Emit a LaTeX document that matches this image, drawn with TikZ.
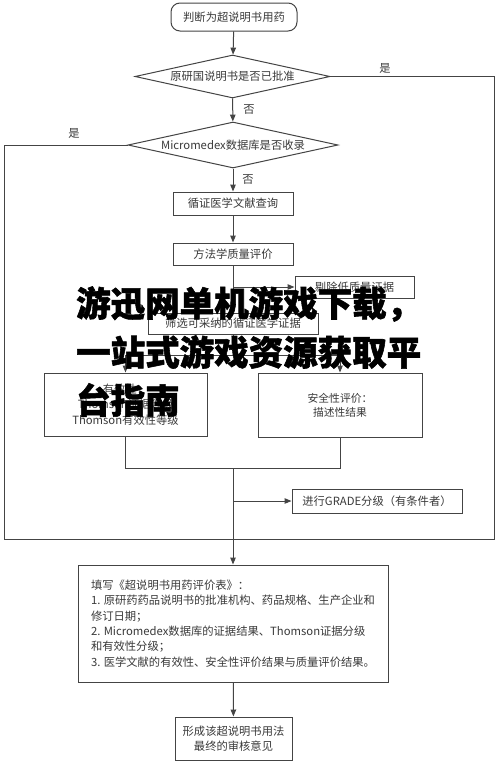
\documentclass[tikz,border=0pt]{standalone}
\usepackage{fontspec}
\setmainfont{Noto Sans CJK SC}
\newfontfamily\heavyfont{Noto Sans CJK SC}[BoldFeatures={FakeBold=1.6}]
\usetikzlibrary{shapes.geometric,arrows.meta}
\definecolor{linec}{HTML}{444444}
\definecolor{txtc}{HTML}{3A3A3A}
\begin{document}
\begin{tikzpicture}[x=1pt,y=-1pt,
  base/.style={font=\fontsize{11.3}{15.4}\selectfont, text=txtc},
  box/.style={base, draw=linec, line width=1pt, inner sep=0pt, align=center},
  dia/.style={diamond, draw=linec, line width=1pt, inner sep=0pt},
  ln/.style={draw=linec, line width=1pt},
  arr/.style={ln, -{Triangle[length=7pt,width=5.5pt]}},
  ovl/.style={font=\heavyfont\fontsize{34.5}{40}\selectfont\bfseries, text=black, inner sep=0pt, anchor=west}]
\fill[white] (0,0) rectangle (499,763);
\useasboundingbox (0,0) rectangle (499,763);
% nodes
\node[box, rounded corners=9pt, minimum width=126pt, minimum height=28pt] (start) at (234,17) {判断为超说明书用药};
\node[dia, minimum width=195pt, minimum height=43pt] (d1) at (232.5,76.5) {};
\node[base] (d1t) at (d1) {原研国说明书是否已批准};
\node[dia, minimum width=210pt, minimum height=46pt] (d2) at (233,145) {};
\node[base] (d2t) at (d2) {Micromedex数据库是否收录};
\node[box, minimum width=120pt, minimum height=23pt] (b3) at (233,203.5) {循证医学文献查询};
\node[box, minimum width=120pt, minimum height=22pt] (b4) at (233,254) {方法学质量评价};
\node[box, minimum width=119pt, minimum height=22pt] (b5) at (354.5,287) {剔除低质量证据};
\node[box, minimum width=170pt, minimum height=21pt] (b6) at (233,323.5) {筛选可采纳的循证医学证据};
\node[box, minimum width=163pt, minimum height=63pt] (b7) at (125.5,404.5) {有效性：\\Thomson证据等级\\Thomson有效性等级};
\node[box, minimum width=164pt, minimum height=64pt, font=\fontsize{10.8}{14}\selectfont] (b8) at (340,405) {安全性评价：\\描述性结果};
\node[box, minimum width=170pt, minimum height=24pt] (b10) at (377,501) {进行GRADE分级（有条件者）};
\node[box, minimum width=310pt, minimum height=117pt, align=left] (b9) at (233,623.5) {填写《超说明书用药评价表》：\\1. 原研药药品说明书的批准机构、药品规格、生产企业和\\修订日期；\\2. Micromedex数据库的证据结果、Thomson证据分级\\和有效性分级；\\3. 医学文献的有效性、安全性评价结果与质量评价结果。};
\node[box, minimum width=117pt, minimum height=43pt] (b11) at (233.5,738.5) {形成该超说明书用法\\最终的审核意见};
% labels
\node[base] (yes1) at (385,68) {是};
\node[base] (no1) at (249,110) {否};
\node[base] (yes2) at (74,133) {是};
\node[base] (no2) at (248,180) {否};
% coordinates
\coordinate (j1) at (233,287);
\coordinate (j2) at (233,355);
\coordinate (j3) at (233,468);
\coordinate (j4) at (233,501);
\coordinate (fb) at (233,539);
\coordinate (fr1) at (494,76.5);
\coordinate (fr2) at (494,539);
\coordinate (fl1) at (4,145);
\coordinate (fl2) at (4,539);
% connectors
\draw[arr] (start) -- (d1);
\draw[arr] (d1) -- (d2);
\draw[arr] (d2) -- (b3);
\draw[arr] (b3) -- (b4);
\draw[arr] (b4) -- (b6);
\draw[arr] (j1) -- (b5.west);
\draw[ln] (b6.south) -- (j2);
\draw[arr] (j2) -| (b7.north);
\draw[arr] (j2) -| (b8.north);
\draw[ln] (b7.south) |- (j3);
\draw[ln] (b8.south) |- (j3);
\draw[arr] (j3) -- (b9.north);
\draw[arr] (j4) -- (b10.west);
\draw[ln] (d1.east) -- (fr1) -- (fr2) -- (fb);
\draw[ln] (d2.west) -- (fl1) -- (fl2) -- (fb);
\draw[arr] (b9) -- (b11);
% overlay title
\node[ovl] (t1) at (76,304) {游迅网单机游戏下载，};
\node[ovl] (t2) at (76,352) {一站式游戏资源获取平};
\node[ovl] (t3) at (76,400) {台指南};
\end{tikzpicture}
\end{document}
